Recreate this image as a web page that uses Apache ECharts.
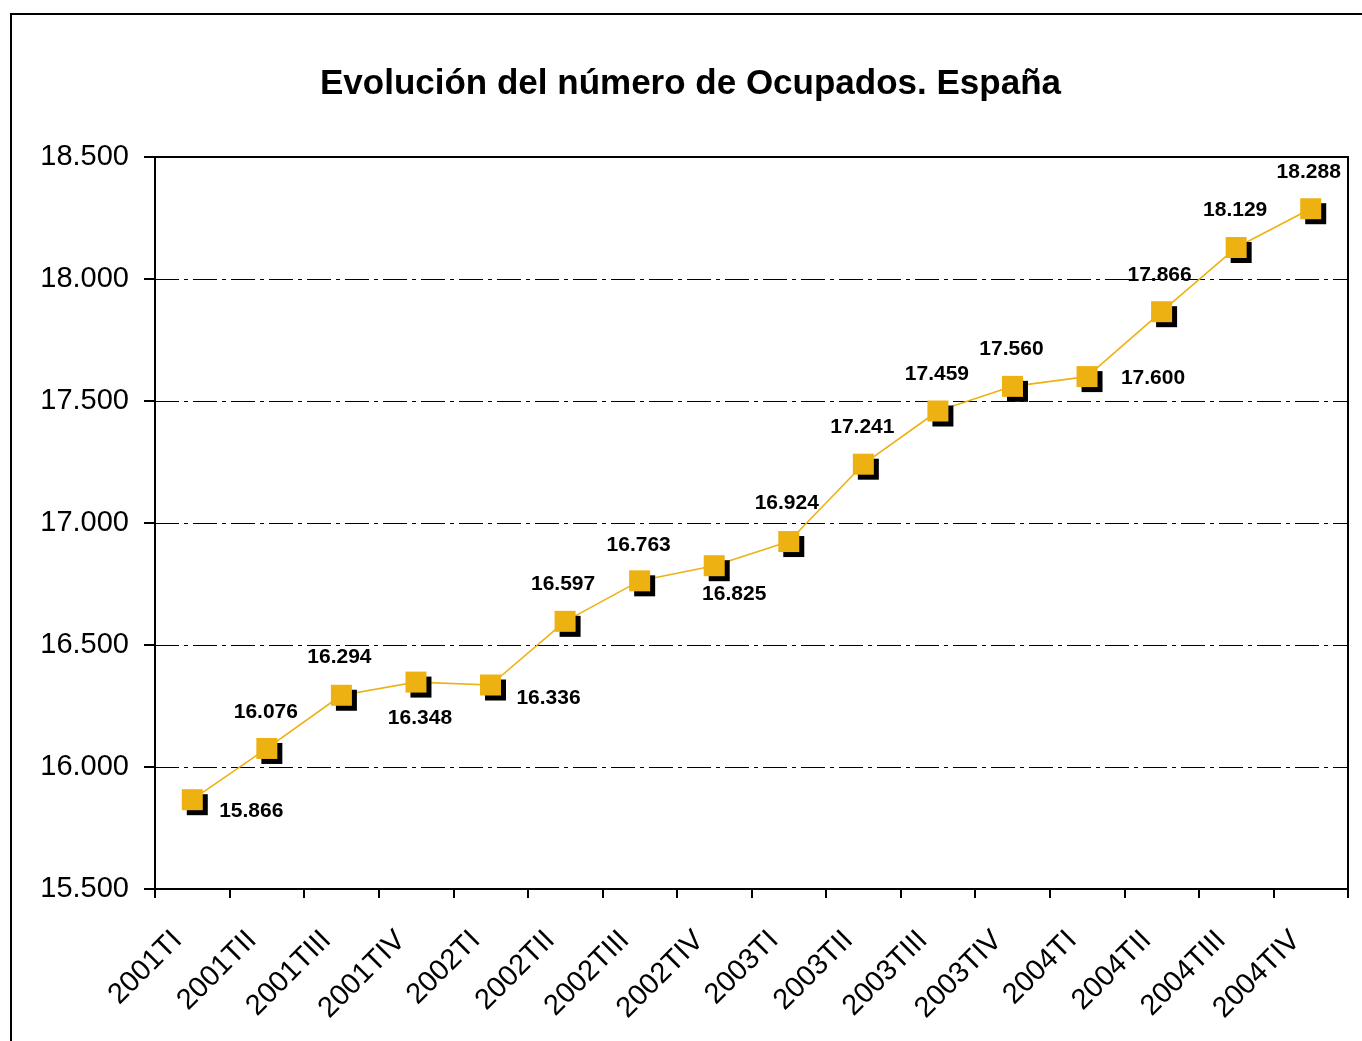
<!DOCTYPE html>
<html>
<head>
<meta charset="utf-8">
<title>Evolución del número de Ocupados. España</title>
<script src="https://cdn.jsdelivr.net/npm/echarts@6/dist/echarts.min.js"></script>
<style>
  html, body { margin: 0; padding: 0; background: #fff; }
  #chart { width: 1362px; height: 1041px; }
</style>
</head>
<body>
<div id="chart"></div>
<script>
// datos (miles de ocupados)
const quarters = ['2001TI', '2001TII', '2001TIII', '2001TIV', '2002TI', '2002TII', '2002TIII', '2002TIV',
  '2003TI', '2003TII', '2003TIII', '2003TIV', '2004TI', '2004TII', '2004TIII', '2004TIV']
const ocupados = [15866, 16076, 16294, 16348, 16336, 16597, 16763, 16825,
  16924, 17241, 17459, 17560, 17600, 17866, 18129, 18288]
const yTicks = [15500, 16000, 16500, 17000, 17500, 18000, 18500]

// desplazamiento de cada etiqueta respecto al marcador
const labelOffsets = [
  [59, 12], [-1, -36], [-2, -38], [4, 36], [58, 13], [-2, -37], [-1, -36], [20, 29],
  [-2, -38], [-1, -37], [-1, -37], [-1, -37], [66, 2], [-2, -36], [-1, -37], [-2, -37]
]

const fontFamily = 'Liberation Sans, Arial, sans-serif'
const orange = '#EDB112'

const fmt = v => (v / 1000).toFixed(3)

const chart = echarts.init(document.getElementById('chart'))

chart.setOption({
  animation: false,
  backgroundColor: '#fff',
  title: {
    text: 'Evolución del número de Ocupados. España',
    left: 315,
    top: 62,
    textStyle: { fontFamily, fontSize: 35, fontWeight: 'bold', color: '#000' }
  },
  graphic: [{
    type: 'rect',
    shape: { x: 11, y: 14, width: 1400, height: 1100 },
    style: { fill: 'none', stroke: '#000', lineWidth: 2 },
    silent: true
  }, {
    type: 'rect',
    shape: { x: 155, y: 157, width: 1193, height: 732 },
    style: { fill: 'none', stroke: '#000', lineWidth: 2 },
    silent: true,
    z: 10
  }],
  grid: { left: 155, right: 14, top: 157, bottom: 152 },
  xAxis: {
    type: 'category',
    data: quarters,
    boundaryGap: true,
    axisLine: { lineStyle: { color: '#000', width: 2 } },
    axisTick: { show: true, length: 9, lineStyle: { color: '#000', width: 2 } },
    axisLabel: {
      rotate: 45,
      interval: 0,
      margin: 32,
      padding: [0, 21, 0, 0],
      fontFamily,
      fontSize: 29,
      color: '#000'
    }
  },
  yAxis: {
    type: 'value',
    min: yTicks[0],
    max: yTicks[yTicks.length - 1],
    interval: 500,
    axisLine: { show: true, lineStyle: { color: '#000', width: 2 } },
    axisTick: { show: true, length: 11, lineStyle: { color: '#000', width: 2 } },
    axisLabel: {
      margin: 26,
      fontFamily,
      fontSize: 29,
      color: '#000',
      formatter: fmt
    },
    splitLine: {
      show: true,
      lineStyle: { color: '#000', width: 1, type: [24, 5, 4, 5] }
    }
  },
  series: [{
    type: 'line',
    data: ocupados.map((v, i) => ({
      value: v,
      label: { offset: labelOffsets[i] }
    })),
    symbol: 'rect',
    symbolSize: 21,
    lineStyle: { color: orange, width: 1.6 },
    itemStyle: {
      color: orange,
      shadowColor: '#000',
      shadowBlur: 0,
      shadowOffsetX: 5,
      shadowOffsetY: 5
    },
    label: {
      show: true,
      position: 'inside',
      fontFamily,
      fontSize: 21,
      fontWeight: 'bold',
      color: '#000',
      formatter: p => fmt(p.value)
    },
    z: 5
  }]
})
</script>
</body>
</html>
